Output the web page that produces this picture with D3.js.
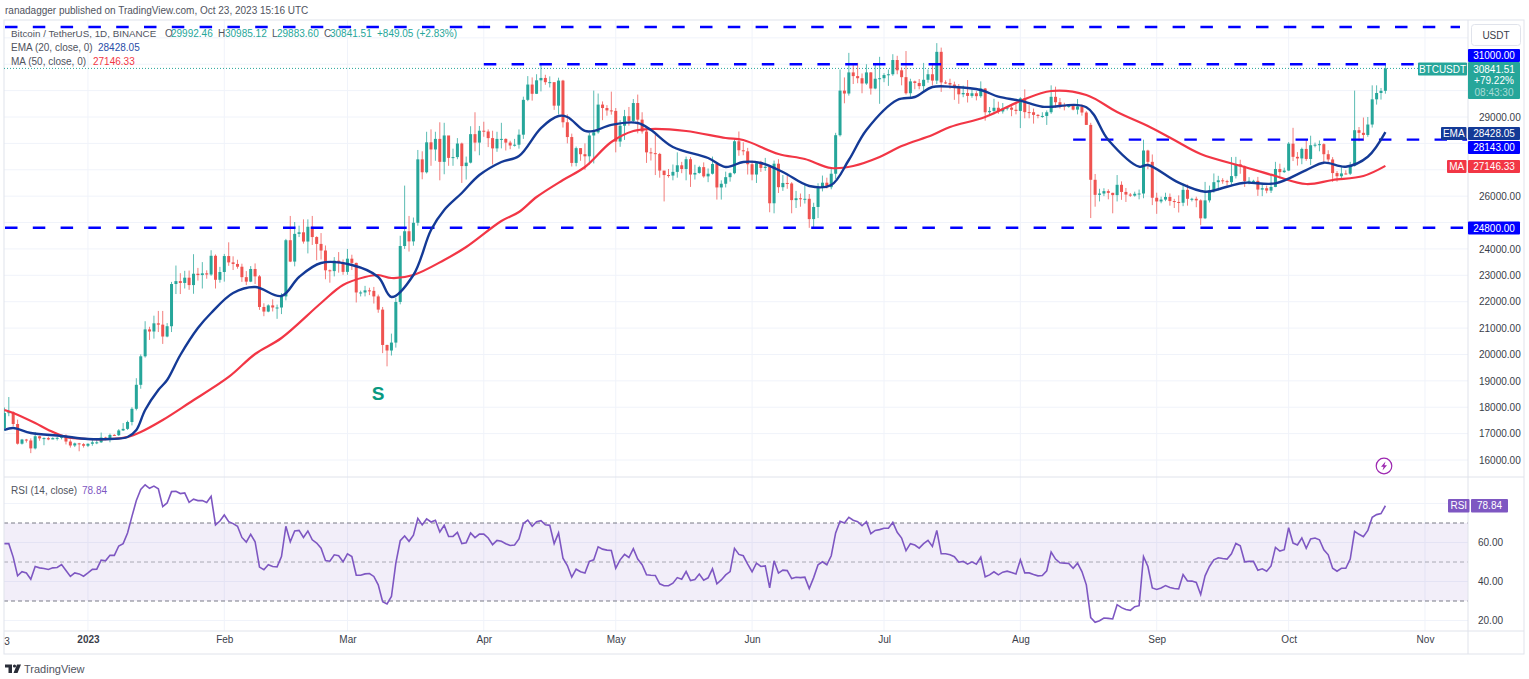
<!DOCTYPE html>
<html>
<head>
<meta charset="utf-8">
<script src="https://cdn.jsdelivr.net/npm/d3@7"></script>
<style>
  body { margin: 0; background: #fff; }
  text { font-family: "Liberation Sans", sans-serif; }
</style>
</head>
<body>
<svg id="chart" width="1529" height="679"></svg>
<script>
// daily candles, first one is Dec 13 2022
var firstOpen = 17206;
var closes = [
  // dec
  17780,17813,17364,16618,16775,16740,16440,16900,16820,16830,16780,16830,16840,16920,16700,16550,16630,16600,16540,
  // jan
  16615,16670,16670,16850,16830,16950,16940,17120,17180,17440,17940,18850,19930,20950,20870,21180,21130,20680,21070,22670,22780,22710,22910,22630,23060,23010,23075,23030,23740,22830,23125,
  // feb
  23730,23490,23430,23325,22930,22760,23240,22960,21800,21625,21860,21780,21780,22200,24330,23520,24570,24630,24280,24840,24450,24190,23940,23190,23160,23555,23490,23130,
  // mar
  23630,23470,22350,22350,22430,22410,22200,21700,20360,20150,20450,21990,24110,24670,24285,24990,27395,26905,28040,27770,28170,27300,28300,27450,27480,27995,27140,27270,28350,28030,28480,
  // apr
  28450,28200,27810,28170,28170,28030,27920,27950,28330,29650,30230,29880,30390,30480,30320,30320,29430,30380,28800,28240,27260,27820,27590,27510,28300,28420,29470,29340,29250,29230,
  // may
  28070,28670,29030,28850,29530,28900,28450,27660,27630,27600,26970,26800,26780,26920,27170,27030,27400,26820,26880,27100,26750,26850,27220,26330,26470,26720,26870,28080,27740,27700,27210,
  // jun
  26820,27250,27070,27115,25730,27230,26340,26500,26480,25850,25920,25900,25900,25130,25590,26340,26510,26340,26850,28310,30000,29890,30690,30550,30470,30270,30690,30080,30450,30470,
  // jul
  30590,30620,31160,30770,30510,29900,30350,30290,30170,30410,30620,30380,31470,30310,30290,30230,30145,29860,29910,29800,29900,29790,30080,29180,29230,29350,29210,29320,29355,29275,29230,
  // aug
  29705,29185,29180,29080,29040,29040,29180,29765,29560,29430,29400,29420,29280,29400,29170,28700,26620,26050,26100,26190,26125,26040,26430,26160,26060,26020,26090,26100,27730,27300,25940,
  // sep
  25800,25870,25970,25815,25780,25750,26240,25900,25900,25840,25160,25840,26220,26530,26600,26570,26530,26760,27210,27130,26570,26580,26580,26250,26300,26210,26350,27030,26910,26970,
  // oct
  27990,27490,27430,27790,27410,27930,27950,27970,27590,27390,26875,26755,26860,26850,27150,28500,28400,28320,28715,29670,29910,29992.46,30841.51
];
var highs = [
  17990,18387,17846,17530,16800,16800,16820,17060,16920,16860,16880,16860,16870,16940,16970,16780,16660,16650,16640,
  16630,16760,16770,17040,16880,17000,16980,17170,17400,17490,18000,19100,20000,21260,21050,21470,21650,21650,21190,22750,23370,23080,23170,23180,23800,23280,23500,23190,23950,23790,23320,
  23810,24250,23720,23590,23440,23160,23350,23450,23010,21940,21900,22090,21890,22320,24380,25250,25020,24880,25120,25120,25250,24480,24600,24130,23220,23690,23880,23600,
  24000,23780,23480,22420,22600,22530,22560,22270,21800,20370,20790,22150,24500,26400,25250,25190,27750,27700,28440,28530,28440,28800,28780,28200,27800,28200,28030,27500,28650,29180,28660,
  28820,28530,28480,28440,28780,28190,28100,28170,28530,29770,30550,30500,30620,31000,30600,30540,30310,30490,30410,29100,28370,27880,27820,28000,28400,30000,29890,29590,29450,29960,
  29340,28880,29270,29380,29680,29850,29180,28630,27830,28330,27640,26900,27030,27200,27660,27300,27500,27480,27190,27150,27280,27050,27500,27220,26600,26930,26900,28200,28450,28040,27830,
  27350,27300,27340,27450,27130,27350,27400,26800,26780,26530,26200,26100,26430,26080,25750,26490,26780,26700,27050,28400,30800,30500,31430,31000,31050,30650,31000,30700,31000,31280,
  30660,30800,31380,31320,30880,31500,30450,30380,30440,31050,30800,30980,31800,31630,30390,30450,30340,30250,30190,30400,30050,29980,30350,30100,29380,29690,29580,29530,29420,29450,29520,
  29750,30050,29450,29320,29110,29180,29250,30200,30150,29720,29540,29470,29450,29680,29480,29220,28780,26840,26280,26300,26260,26130,26800,26560,26310,26120,26170,26250,28140,27760,27580,
  26130,25980,26130,26100,25900,26030,26420,26440,25940,25980,25880,26540,26400,26860,26770,26680,26620,27480,27490,27380,27160,26720,26620,26730,26450,26400,26830,27300,27230,27080,
  28050,28590,27670,27840,28120,28290,28030,28110,28000,27740,27480,26950,27100,26980,27300,30000,28620,28980,29000,30200,30200,30100,30985.12
];
var lows = [
  17100,17660,17275,16584,16584,16660,16260,16400,16730,16560,16750,16790,16740,16780,16590,16470,16490,16330,16470,
  16490,16540,16600,16650,16750,16670,16910,16910,17100,17140,17310,17880,18700,19880,20550,20600,20850,20400,20650,20850,22290,22290,22500,22450,22300,22800,22500,22870,22980,22500,22720,
  22760,23360,23200,23250,22750,22630,22740,22670,21690,21450,21600,21630,21350,21530,22050,23500,23340,24450,24200,23830,24150,23570,23600,22850,22720,22960,23100,23020,
  23020,23200,21970,22200,22200,22250,21930,21580,20050,19550,19960,20260,21900,24000,23900,24120,24880,26640,26860,27150,27340,26600,26830,27150,27150,27400,26500,26630,27240,27700,27550,
  28250,27860,27200,27680,27810,27730,27780,27880,27800,28170,29600,29620,29870,29970,30220,30120,29270,29100,28600,28000,27125,27130,27340,27000,27190,27240,28370,28880,29050,29090,
  27660,27870,28130,28670,28800,28380,28370,27260,27350,26800,26700,25800,26700,26600,26700,26870,26600,26350,26630,26850,26700,26530,26820,25870,25870,26330,26550,26830,27530,27550,26820,
  26600,26500,26920,26960,25390,25350,26120,26200,26280,25350,25550,25600,25720,24800,24820,25170,26180,26290,26260,26650,28260,29520,29810,30250,30280,29900,30220,29850,30050,29500,
  30320,30180,30560,30620,30200,29850,29700,30050,30050,29950,30300,30200,30250,29950,30250,30070,29650,29500,29750,29550,29730,29630,29730,28860,29050,29100,29120,29130,29250,29030,29100,
  28580,28950,28950,28750,28950,28970,28700,29120,29350,29320,29250,29350,29250,29100,29050,28700,25170,25600,25800,26000,25880,25350,25800,25860,25780,25970,25980,25880,25920,27020,25660,
  25330,25730,25810,25640,25550,25380,25620,25640,25800,25580,24900,25130,25760,26130,26220,26470,26400,26380,26670,26850,26350,26450,26520,26010,26000,26110,26120,26340,26670,26880,
  26950,27330,27160,27210,27340,27180,27850,27700,27260,27300,26540,26550,26680,26820,26800,27120,28080,28100,28250,28600,29470,29660,29883.60
];

// moving averages, day index and price
var emaDays = [0,2,6,13,19,24,28,30,32,35,37,40,44,47,52,57,63,67,72,79,85,88,93,97,100,104,108,113,117,122,126,128,132,134,138,144,147,152,160,164,168,172,177,183,188,192,196,203,207,211,216,222,226,231,236,246,251,258,260,267,273,278,282,289,296,300,305,310,314];
var emaValues = [17137,17213,17024,16910,16796,16796,16872,17137,17895,18653,19032,19980,21003,21572,22330,22557,22216,22936,23467,23391,22936,22178,23012,24717,25475,26120,26800,27295,27522,28583,29038,29000,28470,28470,28700,28773,28507,27863,27446,27105,27295,27257,26915,26385,26423,27370,28507,29644,29758,30137,30137,30023,29770,29618,29390,29368,28128,27116,27181,26510,26169,26358,26510,26487,26990,27268,27116,27495,28428.05];
var maDays = [0,2,7,10,14,19,24,28,31,36,42,51,57,63,72,77,82,85,88,93,100,105,113,117,121,127,132,138,143,147,155,164,168,176,182,188,193,199,204,211,215,223,231,238,246,253,260,266,272,282,289,296,302,309,314];
var maValues = [17895,17782,17400,17137,16872,16796,16796,16872,17062,17516,18160,19146,20018,20624,21950,22633,22936,23012,22898,23012,23580,24073,25058,25400,25968,26612,27105,28053,28470,28545,28470,28204,28128,27598,27408,27067,27143,27484,27900,28318,28621,29000,29606,29985,29834,29190,28659,28128,27598,27105,26764,26460,26612,26764,27146.33];

var rsiValues = [
  59.4,59.4,52.5,42.9,45,44.4,41.2,47.7,47,46.7,46.2,47,47.2,48.7,45.6,42.6,44.4,43.9,42.7,
  44.4,46.2,46.3,51,50.6,53.4,53.4,58.2,59.4,64.9,73.4,81.5,87.2,89.6,87.8,88.9,87.5,78.4,80.3,86.1,86.3,85.1,85.4,80.6,82.2,81.5,81.5,80.5,83.7,69,71,74.1,
  70.7,69.7,68.3,62.6,60.2,64.2,60.4,47.4,46,48.6,47.7,47.5,52.8,68.3,60.4,65.9,66.2,62.6,65.9,61.4,59.7,57.1,50.8,50.4,53.7,53.2,50.1,54.2,
  52.8,43.2,43.2,43.9,44.1,42.6,38.3,29.7,28.5,32.3,49.4,60.9,63.3,60.6,63.8,72.4,69,72.1,70.5,71.4,65.4,68.8,63.1,63.1,65.2,59.5,59.9,64.9,62.5,64.3,64.3,62.3,
  58.9,61.1,60.6,59.4,58.5,58.7,61.8,69.7,71.5,68.3,70.7,71.2,69.1,68.8,59.4,64.9,52,48.2,42.2,46.3,45,44.4,50.3,51.1,57.8,56.6,56.1,55.9,
  46.8,51.1,53.9,52.3,56.8,51.5,48.6,43.4,43.2,43.1,38.8,37.8,37.8,39.1,42,41.2,45.1,40.5,41,43.8,40.7,41.9,46.5,38.8,40.8,43.4,45.1,
  57,53.9,53.2,48.9,45,49.4,47.7,48,36.7,50.6,44.3,45.8,45.6,41.5,42.2,42,42.2,36.4,42,48.6,50.1,48.6,53.2,64.9,70.9,70,72.9,71.4,70.7,68.6,
  70.7,64.5,66.2,66.6,67.3,67.3,70.3,65.2,62.3,55.8,59.4,58.7,57.1,59.4,61.1,58,66.2,54.2,54.2,53.7,52.7,49.9,50.3,48.9,50.1,48.9,52.5,42.4,43.4,45,43.4,44.8,45.3,44.6,43.8,
  51.1,44.4,44.4,43.6,42.9,43.1,45.5,55.1,51.5,49.6,49.4,49.2,46.8,49.4,45.1,38.3,21.5,19.1,19.9,21.3,21.1,20.8,28.1,26.6,25.6,25.2,27.1,27.6,52.8,47.7,36.7,
  35.9,36.7,37.9,36.9,36.4,36.2,43.6,40.3,40.2,39.5,33.3,42.9,47.7,51.1,52.2,51.8,51.5,54.2,59.5,58.3,50.1,50.3,50.3,45.8,46.5,45.3,48,57.5,55.6,56.3,
  67.6,59.7,58.7,62.3,57,61.8,62.3,61.4,56.3,53.7,46.8,45.3,46.8,46.8,51.5,65.7,64.2,63,66.2,72.9,74.3,74.8,78.84
];

var priceTicks = [29000,26000,24000,23000,22000,21000,20000,19000,18000,17000,16000];
var priceGrid = [32000,31000,30000,29000,28000,27000,26000,25000,24000,23000,22000,21000,20000,19000,18000,17000,16000];
var rsiTicks = [60,40,20];
var rsiGrid = [80,60,40,20];
var rsiBands = [70,50,30];
var monthDays = [19,50,78,109,139,170,200,231,262,292,323];
var monthLabels = ["2023","Feb","Mar","Apr","May","Jun","Jul","Aug","Sep","Oct","Nov"];

// hand drawn levels
var levelPrices = [32411,31000,28143,24800];
var levelStart = [0,109,243,0];

var upColor = "#26a69a";
var downColor = "#ef5350";
var levelColor = "#0000ff";
var emaColor = "#143a96";
var maColor = "#f23645";
var rsiColor = "#7e57c2";
var gridColor = "#f0f3fa";
var borderColor = "#e0e3eb";
var textColor = "#3a3e4a";

var paneLeft = 4, axisLeft = 1468, paneRight = 1524;
var mainTop = 20, mainBottom = 477, rsiBottom = 631, dateBottom = 654;

var xScale = d3.scaleLinear().domain([0, 314]).range([4.4, 1385.4]);
var yScale = d3.scaleLinear().domain([16000, 29000]).range([460, 117]);
var rsiScale = d3.scaleLinear().domain([20, 70]).range([620.5, 523]);

var svg = d3.select("#chart");

svg.append("defs").append("clipPath").attr("id", "pane")
  .append("rect").attr("x", paneLeft).attr("y", mainTop)
  .attr("width", axisLeft - paneLeft).attr("height", mainBottom - mainTop);

// grid
svg.append("g").selectAll("line").data(priceGrid).enter().append("line")
  .attr("x1", paneLeft).attr("x2", axisLeft)
  .attr("y1", d => yScale(d)).attr("y2", d => yScale(d))
  .attr("stroke", gridColor);

svg.append("g").selectAll("line").data(rsiGrid).enter().append("line")
  .attr("x1", paneLeft).attr("x2", axisLeft)
  .attr("y1", d => rsiScale(d)).attr("y2", d => rsiScale(d))
  .attr("stroke", gridColor);

svg.append("g").selectAll("line").data(monthDays).enter().append("line")
  .attr("x1", d => xScale(d)).attr("x2", d => xScale(d))
  .attr("y1", mainTop).attr("y2", rsiBottom)
  .attr("stroke", gridColor);

// rsi band
svg.append("rect")
  .attr("x", paneLeft).attr("width", axisLeft - paneLeft)
  .attr("y", rsiScale(70)).attr("height", rsiScale(30) - rsiScale(70))
  .attr("fill", rsiColor).attr("fill-opacity", 0.1);

svg.append("g").selectAll("line").data(rsiBands).enter().append("line")
  .attr("x1", paneLeft).attr("x2", axisLeft)
  .attr("y1", d => rsiScale(d)).attr("y2", d => rsiScale(d))
  .attr("stroke", "#787b86").attr("stroke-opacity", (d,i) => i == 1 ? 0.6 : 1)
  .attr("stroke-dasharray", "4,3");

// frame
svg.append("rect")
  .attr("x", paneLeft).attr("y", mainTop)
  .attr("width", paneRight - paneLeft).attr("height", dateBottom - mainTop)
  .attr("fill", "none").attr("stroke", borderColor);
[mainBottom, rsiBottom].forEach(y => {
  svg.append("line").attr("x1", paneLeft).attr("x2", paneRight)
    .attr("y1", y).attr("y2", y).attr("stroke", borderColor);
});
svg.append("line").attr("x1", axisLeft).attr("x2", axisLeft)
  .attr("y1", mainTop).attr("y2", dateBottom).attr("stroke", borderColor);

var plot = svg.append("g").attr("clip-path", "url(#pane)");

// last price line
plot.append("line")
  .attr("x1", paneLeft).attr("x2", 1418)
  .attr("y1", yScale(30841.51)).attr("y2", yScale(30841.51))
  .attr("stroke", upColor).attr("stroke-dasharray", "1,2");

// candles
var candles = closes.map((c, i) => ({
  i: i,
  o: i == 0 ? firstOpen : closes[i - 1],
  c: c,
  h: highs[i],
  l: lows[i]
}));

plot.append("g").selectAll("line").data(candles).enter().append("line")
  .attr("x1", d => xScale(d.i)).attr("x2", d => xScale(d.i))
  .attr("y1", d => yScale(d.h)).attr("y2", d => yScale(d.l))
  .attr("stroke", d => d.c >= d.o ? upColor : downColor)
  .attr("stroke-opacity", 0.75);

plot.append("g").selectAll("rect").data(candles).enter().append("rect")
  .attr("x", d => xScale(d.i) - 1.5)
  .attr("width", 3)
  .attr("y", d => yScale(Math.max(d.o, d.c)))
  .attr("height", d => Math.max(1, Math.abs(yScale(d.o) - yScale(d.c))))
  .attr("fill", d => d.c >= d.o ? upColor : downColor);

// drawn levels
plot.append("g").selectAll("line").data(levelPrices).enter().append("line")
  .attr("x1", (d,i) => xScale(levelStart[i]) + (levelStart[i] == 0 ? 0.6 : 0))
  .attr("x2", (d,i) => i == 0 ? 1460 : 1467)
  .attr("y1", d => yScale(d)).attr("y2", d => yScale(d))
  .attr("stroke", levelColor).attr("stroke-width", 2.4)
  .attr("stroke-dasharray", "12.5,15.3");

// averages
var emaLine = d3.line().x((d,i) => xScale(emaDays[i])).y(d => yScale(d)).curve(d3.curveCatmullRom);
var maLine = d3.line().x((d,i) => xScale(maDays[i])).y(d => yScale(d)).curve(d3.curveCatmullRom);
var rsiLine = d3.line().x((d,i) => xScale(i)).y(d => rsiScale(d));

plot.append("path").attr("d", maLine(maValues))
  .attr("fill", "none").attr("stroke", maColor).attr("stroke-width", 2.2);
plot.append("path").attr("d", emaLine(emaValues))
  .attr("fill", "none").attr("stroke", emaColor).attr("stroke-width", 2.4);

svg.append("path").attr("d", rsiLine(rsiValues))
  .attr("fill", "none").attr("stroke", rsiColor).attr("stroke-width", 1.6);

// S note
svg.append("text").attr("x", 378).attr("y", 400)
  .attr("text-anchor", "middle")
  .attr("font-size", 19).attr("font-weight", 700)
  .attr("fill", "#089981").text("S");

// lightning marker
var marker = svg.append("g").attr("transform", "translate(1384,466)");
marker.append("circle").attr("r", 7.8).attr("fill", "#fff")
  .attr("stroke", "#9c27b0").attr("stroke-width", 1.2);
marker.append("path").attr("d", "M1.5,-4.5 L-3,0.8 L-0.4,0.8 L-1.5,4.5 L3,-0.8 L0.4,-0.8 Z")
  .attr("fill", "#9c27b0");

// axes
var fontSize = 10;
var priceAxis = d3.axisRight(yScale).tickValues(priceTicks).tickSize(0).tickPadding(11)
  .tickFormat(d => d.toFixed(2));
var priceG = svg.append("g").attr("transform", "translate(" + axisLeft + ",0)").call(priceAxis);
var rsiAxis = d3.axisRight(rsiScale).tickValues(rsiTicks).tickSize(0).tickPadding(10)
  .tickFormat(d => d.toFixed(2));
var rsiG = svg.append("g").attr("transform", "translate(" + axisLeft + ",0)").call(rsiAxis);
var dateAxis = d3.axisBottom(xScale).tickValues(monthDays).tickSize(0).tickPadding(5)
  .tickFormat((d,i) => monthLabels[i]);
var dateG = svg.append("g").attr("transform", "translate(0," + rsiBottom + ")").call(dateAxis);

[priceG, rsiG, dateG].forEach(g => {
  g.select(".domain").remove();
  g.selectAll("text").attr("font-size", fontSize).attr("fill", textColor)
    .style("font-family", '"Liberation Sans", sans-serif');
});
dateG.selectAll("text").filter(d => d == 19).attr("font-weight", 700);

svg.append("text").attr("x", 7).attr("y", 645).attr("text-anchor", "middle")
  .attr("font-size", fontSize).attr("fill", textColor).text("3");

// axis tags
function tag(x, y, w, h, fill, label, color) {
  svg.append("rect").attr("x", x).attr("y", y).attr("width", w).attr("height", h)
    .attr("rx", 1).attr("fill", fill);
  svg.append("text").attr("x", x + w / 2).attr("y", y + h / 2 + 3.5)
    .attr("text-anchor", "middle").attr("font-size", fontSize).attr("fill", color || "#fff")
    .text(label);
}

svg.append("rect").attr("x", 1471.5).attr("y", 24.5).attr("width", 49).attr("height", 21)
  .attr("rx", 3).attr("fill", "#fff").attr("stroke", borderColor);
svg.append("text").attr("x", 1496).attr("y", 38.5).attr("text-anchor", "middle")
  .attr("font-size", fontSize).attr("fill", textColor).text("USDT");

tag(1468, 49, 52, 13, levelColor, "31000.00");
tag(1468, 62, 52, 37, upColor, "");
tag(1418, 62.5, 49, 13, upColor, "BTCUSDT");
[["30841.51", 72.5, 1], ["+79.22%", 84, 1], ["08:43:30", 95.5, 0.6]].forEach(r => {
  svg.append("text").attr("x", 1494).attr("y", r[1]).attr("text-anchor", "middle")
    .attr("font-size", fontSize).attr("fill", "#fff").attr("fill-opacity", r[2]).text(r[0]);
});
tag(1468, 127, 52, 13, emaColor, "28428.05");
tag(1441, 127, 25.5, 13, emaColor, "EMA");
tag(1468, 141, 52, 13, levelColor, "28143.00");
tag(1468, 160, 52, 13, maColor, "27146.33");
tag(1447, 160, 19.5, 13, maColor, "MA");
tag(1468, 221.5, 52, 13, levelColor, "24800.00");
tag(1471, 499, 37, 13.5, rsiColor, "78.84");
tag(1448, 499, 21.5, 13.5, rsiColor, "RSI");

// header and legends
function legend(y, parts) {
  parts.forEach(p => {
    svg.append("text").attr("x", p[0]).attr("y", y)
      .attr("font-size", p[3] || fontSize).attr("fill", p[2] || "#50535e").text(p[1]);
  });
}

svg.append("text").attr("x", 5).attr("y", 14).attr("font-size", 10)
  .attr("fill", "#50535e").text("ranadagger published on TradingView.com, Oct 23, 2023 15:16 UTC");

legend(37, [
  [11, "Bitcoin / TetherUS, 1D, BINANCE", null, 9.8],
  [165, "O"], [171, "29992.46", upColor],
  [218, "H"], [225, "30985.12", upColor],
  [272, "L"], [277, "29883.60", upColor],
  [324, "C"], [330, "30841.51", upColor],
  [377, "+849.05 (+2.83%)", upColor]
]);
legend(51, [[11, "EMA (20, close, 0)"], [98, "28428.05", "#2a4ea8"]]);
legend(65, [[11, "MA (50, close, 0)"], [93, "27146.33", maColor]]);
legend(494, [[11, "RSI (14, close)"], [82, "78.84", rsiColor]]);

// tradingview mark
var logo = svg.append("g").attr("fill", "#2a2e39");
logo.append("path").attr("d", "M5,664.5 H12 V673 H8.5 V667.5 H5 Z");
logo.append("circle").attr("cx", 14.5).attr("cy", 666).attr("r", 1.6);
logo.append("path").attr("d", "M17,664.5 H21 L17.5,673 H13.5 Z");
svg.append("text").attr("x", 24).attr("y", 673).attr("font-size", 11)
  .attr("fill", "#50535e").text("TradingView");
</script>
</body>
</html>
